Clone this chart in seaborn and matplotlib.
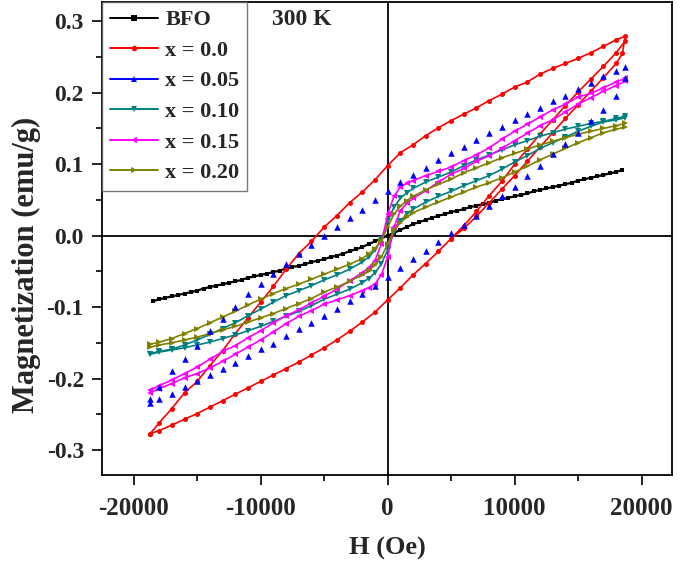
import numpy as np
import pandas as pd
import matplotlib
matplotlib.use("Agg")
import matplotlib.pyplot as plt
from matplotlib.lines import Line2D
from matplotlib.ticker import MultipleLocator, FormatStrFormatter
import seaborn as sns

# field grids (Oe)
H_COARSE = [18700, 18000, 17000, 16000, 15000, 14000, 13000, 12000, 11000, 10000,
            9000, 8000, 7000, 6000, 5000, 4000, 3000, 2000, 1000, 0,
            -1000, -2000, -3000, -4000, -5000, -6000, -7000, -8000, -9000, -10000,
            -11000, -12000, -13000, -14000, -15000, -16000, -17000, -18000, -18700]
H_FINE = [18700, 18000, 17000, 16000, 15000, 14000, 13000, 12000, 11000, 10000,
          9000, 8000, 7000, 6000, 5000, 4000, 3000,
          2000, 1500, 1000, 500, 0, -500, -1000, -1500, -2000,
          -3000, -4000, -5000, -6000, -7000, -8000, -9000, -10000, -11000, -12000,
          -13000, -14000, -15000, -16000, -17000, -18000, -18700]
H_BFO = list(range(-18500, 19000, 500))

# BFO (no visible hysteresis)
M_BFO = [-0.092, -0.089, -0.087, -0.085, -0.083, -0.081, -0.079, -0.077, -0.074, -0.072,
         -0.070, -0.068, -0.066, -0.064, -0.062, -0.059, -0.057, -0.055, -0.053, -0.051,
         -0.049, -0.046, -0.044, -0.042, -0.040, -0.037, -0.035, -0.033, -0.030, -0.028,
         -0.025, -0.022, -0.019, -0.016, -0.012, -0.008, -0.004, 0.000,
         0.004, 0.008, 0.012, 0.016, 0.019, 0.022, 0.025, 0.028, 0.030, 0.033,
         0.035, 0.037, 0.040, 0.042, 0.044, 0.046, 0.049, 0.051, 0.053, 0.055,
         0.057, 0.059, 0.062, 0.064, 0.066, 0.068, 0.070, 0.072, 0.074, 0.077,
         0.079, 0.081, 0.083, 0.085, 0.087, 0.089, 0.092]

# x = 0.0 (red)
H_X00_START = [5000, 6000, 7000, 8000, 9000, 10000, 11000, 12000, 13000, 14000,
               15000, 16000, 17000, 18000, 18500]
M_X00_START = [-0.004, 0.010, 0.027, 0.046, 0.065, 0.084, 0.104, 0.124, 0.144, 0.164,
               0.183, 0.202, 0.221, 0.241, 0.255]
M_X00_DOWN = [0.279, 0.274, 0.265, 0.256, 0.248, 0.241, 0.234, 0.226, 0.215, 0.208,
              0.198, 0.189, 0.179, 0.170, 0.161, 0.151, 0.140, 0.127, 0.116, 0.098,
              0.078, 0.061, 0.046, 0.028, 0.012, -0.008, -0.025, -0.047, -0.071, -0.093,
              -0.115, -0.137, -0.161, -0.182, -0.204, -0.220, -0.242, -0.262, -0.277]
M_X00_UP = [-0.277, -0.273, -0.265, -0.257, -0.249, -0.240, -0.231, -0.222, -0.213, -0.204,
            -0.195, -0.186, -0.177, -0.167, -0.157, -0.146, -0.134, -0.121, -0.107, -0.090,
            -0.073, -0.055, -0.039, -0.022, -0.004, 0.014, 0.034, 0.056, 0.076, 0.100,
            0.121, 0.142, 0.162, 0.182, 0.201, 0.219, 0.237, 0.256, 0.272]

# x = 0.05 (blue, symbols only)
M_X05_DOWN = [0.236, 0.231, 0.223, 0.214, 0.205, 0.196, 0.188, 0.179, 0.170, 0.162,
              0.152, 0.143, 0.134, 0.124, 0.115, 0.106, 0.095, 0.085, 0.075, 0.062,
              0.050, 0.036, 0.024, 0.012, -0.001, -0.013, -0.025, -0.040, -0.053, -0.068,
              -0.082, -0.100, -0.116, -0.133, -0.154, -0.172, -0.190, -0.212, -0.228]
M_X05_UP = [-0.234, -0.229, -0.221, -0.212, -0.203, -0.195, -0.186, -0.178, -0.169, -0.159,
            -0.151, -0.141, -0.131, -0.122, -0.113, -0.103, -0.092, -0.082, -0.071, -0.058,
            -0.045, -0.033, -0.021, -0.009, 0.004, 0.015, 0.028, 0.041, 0.055, 0.068,
            0.083, 0.098, 0.114, 0.128, 0.144, 0.160, 0.176, 0.195, 0.220]

# x = 0.10 (teal)
M_X10_DOWN = [0.167, 0.164, 0.160, 0.157, 0.153, 0.149, 0.144, 0.139, 0.133, 0.127,
              0.120, 0.113, 0.106, 0.098, 0.089, 0.082, 0.075,
              0.066, 0.060, 0.052, 0.040, 0.020, -0.005, -0.020, -0.030, -0.037,
              -0.047, -0.055, -0.062, -0.070, -0.077, -0.084, -0.093, -0.103, -0.112, -0.122,
              -0.130, -0.138, -0.146, -0.153, -0.159, -0.162, -0.165]
M_X10_UP = [-0.166, -0.163, -0.160, -0.157, -0.153, -0.149, -0.144, -0.139, -0.133, -0.127,
            -0.120, -0.113, -0.106, -0.098, -0.089, -0.082, -0.075,
            -0.066, -0.060, -0.052, -0.040, -0.020, 0.005, 0.020, 0.030, 0.037,
            0.047, 0.055, 0.062, 0.070, 0.077, 0.084, 0.093, 0.103, 0.112, 0.122,
            0.130, 0.138, 0.146, 0.153, 0.159, 0.162, 0.165]

# x = 0.15 (magenta)
M_X15_DOWN = [0.220, 0.215, 0.207, 0.199, 0.194, 0.184, 0.176, 0.166, 0.156, 0.146,
              0.135, 0.123, 0.113, 0.105, 0.096, 0.090, 0.084,
              0.077, 0.073, 0.068, 0.055, 0.030, -0.012, -0.035, -0.045, -0.052,
              -0.063, -0.075, -0.085, -0.094, -0.104, -0.112, -0.122, -0.133, -0.143, -0.154,
              -0.162, -0.173, -0.184, -0.193, -0.202, -0.210, -0.216]
M_X15_UP = [-0.220, -0.214, -0.207, -0.199, -0.193, -0.185, -0.176, -0.166, -0.156, -0.146,
            -0.135, -0.123, -0.113, -0.105, -0.096, -0.090, -0.084,
            -0.077, -0.073, -0.068, -0.055, -0.030, 0.012, 0.035, 0.045, 0.052,
            0.063, 0.075, 0.086, 0.094, 0.104, 0.112, 0.122, 0.133, 0.143, 0.154,
            0.162, 0.173, 0.184, 0.193, 0.202, 0.210, 0.216]

# x = 0.20 (olive)
M_X20_DOWN = [0.157, 0.154, 0.150, 0.146, 0.142, 0.137, 0.132, 0.127, 0.121, 0.115,
              0.109, 0.102, 0.095, 0.088, 0.079, 0.072, 0.064,
              0.055, 0.049, 0.041, 0.030, 0.012, -0.008, -0.018, -0.026, -0.032,
              -0.040, -0.047, -0.054, -0.061, -0.068, -0.074, -0.081, -0.089, -0.097, -0.106,
              -0.114, -0.122, -0.130, -0.137, -0.144, -0.149, -0.152]
M_X20_UP = [-0.156, -0.153, -0.150, -0.146, -0.142, -0.137, -0.132, -0.127, -0.121, -0.115,
            -0.109, -0.102, -0.095, -0.088, -0.079, -0.072, -0.064,
            -0.055, -0.049, -0.041, -0.030, -0.012, 0.008, 0.018, 0.026, 0.032,
            0.040, 0.047, 0.054, 0.061, 0.068, 0.074, 0.081, 0.089, 0.097, 0.106,
            0.114, 0.122, 0.130, 0.137, 0.144, 0.149, 0.152]

LABELS = ["BFO", "x = 0.0", "x = 0.05", "x = 0.10", "x = 0.15", "x = 0.20"]
COLORS = ["#000000", "#ff0000", "#0000ff", "#008080", "#ff00ff", "#808000"]
MARKERS = ["s", "o", "^", "v", "<", ">"]

sns.set_theme(style="ticks")
plt.rcParams["font.family"] = ["Liberation Serif", "DejaVu Serif"]
plt.rcParams["font.weight"] = "bold"
plt.rcParams["axes.unicode_minus"] = False

fig = plt.figure(figsize=(6.85, 5.61), dpi=100)
ax = fig.add_axes([102 / 685, 1 - 475 / 561, 570 / 685, 473 / 561])

ax.axhline(0, color="black", lw=1.3, zorder=1)
ax.axvline(0, color="black", lw=1.3, zorder=1)


def loop(down, up):
    return pd.DataFrame({"H": list(H_FINE) + list(H_FINE[::-1]),
                         "M": list(down) + list(up)})


def loop_coarse(down, up):
    return pd.DataFrame({"H": list(H_COARSE) + list(H_COARSE[::-1]),
                         "M": list(down) + list(up)})


line_kw = dict(sort=False, estimator=None, linewidth=1.2, markeredgewidth=0, ax=ax)

# BFO
sns.lineplot(x=H_BFO, y=M_BFO, color=COLORS[0], marker="s", markersize=3.2,
             **{**line_kw, "linewidth": 1.6})

# x = 0.0, with the initial sweep in front of the loop
red = pd.concat([pd.DataFrame({"H": H_X00_START, "M": M_X00_START}),
                 loop_coarse(M_X00_DOWN, M_X00_UP)], ignore_index=True)
sns.lineplot(data=red, x="H", y="M", color=COLORS[1], marker="o", markersize=3.6, **line_kw)

# x = 0.05 -> symbols only
blue = loop_coarse(M_X05_DOWN, M_X05_UP)
sns.scatterplot(data=blue, x="H", y="M", color=COLORS[2], marker="^", s=22,
                linewidth=0, ax=ax, zorder=3)

sns.lineplot(data=loop(M_X10_DOWN, M_X10_UP), x="H", y="M", color=COLORS[3],
             marker="v", markersize=4.5, **line_kw)
sns.lineplot(data=loop(M_X15_DOWN, M_X15_UP), x="H", y="M", color=COLORS[4],
             marker="<", markersize=4.5, **line_kw)
sns.lineplot(data=loop(M_X20_DOWN, M_X20_UP), x="H", y="M", color=COLORS[5],
             marker=">", markersize=4.5, **line_kw)

ax.set_xlim(-22500, 22400)
ax.set_ylim(-0.335, 0.327)
ax.set_xticks([-20000, -10000, 0, 10000, 20000])
ax.xaxis.set_minor_locator(MultipleLocator(5000))
ax.set_yticks([-0.3, -0.2, -0.1, 0.0, 0.1, 0.2, 0.3])
ax.yaxis.set_minor_locator(MultipleLocator(0.05))
ax.yaxis.set_major_formatter(FormatStrFormatter("%.1f"))

ax.tick_params(axis="both", which="major", direction="out", length=7, width=1.2,
               color="black")
ax.tick_params(axis="both", which="minor", direction="out", length=4, width=1.2,
               color="black")
ax.tick_params(axis="x", labelsize=18, pad=9)
ax.tick_params(axis="y", labelsize=17, pad=6)
for lab in ax.get_xticklabels() + ax.get_yticklabels():
    lab.set_fontweight("bold")

for sp in ax.spines.values():
    sp.set_color("black")
    sp.set_linewidth(1.3)

ax.set_xlabel("H (Oe)", fontsize=19, fontweight="bold", labelpad=12)
ax.set_ylabel("Magnetization (emu/g)", fontsize=22, fontweight="bold")
ax.yaxis.set_label_coords(-0.107, 0.445)

ax.text(0.351, 0.962, "300 K", transform=ax.transAxes, ha="center", va="center",
        fontsize=17, fontweight="bold")

handles = [Line2D([], [], color=c, marker=m, markersize=4, markeredgewidth=0, lw=1.4)
           for c, m in zip(COLORS, MARKERS)]
leg = ax.legend(handles, LABELS, loc="upper left", borderaxespad=0, frameon=True,
                fancybox=False, edgecolor="0.35", handlelength=2.15, handletextpad=0.35,
                labelspacing=0.45, borderpad=0.35,
                prop={"family": "Liberation Serif", "weight": "bold", "size": 16})
leg.get_frame().set_linewidth(1.0)

fig.savefig("out.png", dpi=100)
